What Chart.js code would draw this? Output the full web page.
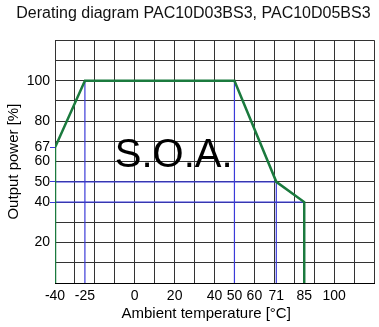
<!DOCTYPE html>
<html>
<head>
<meta charset="utf-8">
<script src="https://cdn.jsdelivr.net/npm/chart.js@4/dist/chart.umd.min.js"></script>
<style>
    html, body { margin: 0; padding: 0; background: #fff; }
    #wrap { width: 379px; height: 327px; }
</style>
</head>
<body>
<div id="wrap"><canvas id="deratingChart"></canvas></div>
<script>
// DATA
const curveTemp  = [-40, -40, -25, 50, 71, 85, 85];
const curvePower = [0, 67, 100, 100, 50, 40, 0];

// blue guide lines, each one a pair of points
const guideTemp  = [[-25, -25], [50, 50], [71, 71], [-40, 71], [-40, 85]];
const guidePower = [[100, 0], [100, 0], [50, 0], [50, 50], [40, 40]];

const xGridTicks  = [-40, -30, -20, -10, 0, 10, 20, 30, 40, 50, 60, 70, 80, 90, 100, 110, 120];
const xLabelTicks = [-40, -25, 0, 20, 40, 50, 60, 71, 85, 100];
const yGridTicks  = [0, 10, 20, 30, 40, 50, 60, 70, 80, 90, 100, 110, 120];
const yLabelTicks = [20, 40, 50, 60, 67, 80, 100];
const yBlueTicks  = [67, 50, 40];

const FONT = 'Liberation Sans, Arial, sans-serif';
Chart.defaults.font.family = FONT;
Chart.defaults.color = '#000';

function mergeTicks(a, b) {
    return [...new Set(a.concat(b))].sort((p, q) => p - q);
}

// S.O.A. label inside the plot
const soaLabel = {
    id: 'soaLabel',
    afterDatasetsDraw(chart) {
        const { ctx, scales } = chart;
        ctx.save();
        ctx.font = '40px ' + FONT;
        ctx.fillStyle = '#000';
        ctx.textAlign = 'left';
        ctx.textBaseline = 'alphabetic';
        ctx.fillText('S.O.A.', scales.x.getPixelForValue(-10), scales.y.getPixelForValue(57.5));
        ctx.restore();
    }
};

const datasets = [{
    data: curveTemp.map((t, i) => ({ x: t, y: curvePower[i] })),
    borderColor: '#1b7a3e',
    borderWidth: 2.5,
    pointRadius: 0,
    order: 0
}];
guideTemp.forEach((pair, i) => {
    datasets.push({
        data: pair.map((t, j) => ({ x: t, y: guidePower[i][j] })),
        borderColor: '#3a3ad8',
        borderWidth: 1.2,
        pointRadius: 0,
        order: 1
    });
});

new Chart(document.getElementById('deratingChart'), {
    type: 'line',
    data: { datasets },
    plugins: [soaLabel],
    options: {
        responsive: true,
        maintainAspectRatio: false,
        animation: false,
        layout: { padding: { right: 1 } },
        plugins: {
            legend: { display: false },
            tooltip: { enabled: false },
            title: {
                display: true,
                text: '\u00a0\u00a0Derating diagram PAC10D03BS3, PAC10D05BS3',
                color: '#111',
                font: { size: 16, weight: 'normal' },
                padding: { top: 4, bottom: 17 }
            }
        },
        scales: {
            x: {
                type: 'linear',
                min: -40,
                max: 120,
                afterBuildTicks: s => { s.ticks = mergeTicks(xGridTicks, xLabelTicks).map(v => ({ value: v })); },
                afterFit: s => { s.height = 44; },
                border: { color: '#000', width: 1 },
                grid: {
                    drawTicks: false,
                    color: c => (c.tick && c.tick.value % 10 === 0) ? '#333' : 'rgba(0,0,0,0)'
                },
                ticks: {
                    autoSkip: false,
                    maxRotation: 0,
                    padding: 5,
                    font: { size: 14 },
                    callback: v => xLabelTicks.includes(v) ? String(v) : ''
                },
                title: {
                    display: true,
                    text: 'Ambient temperature [°C]\u00a0\u00a0\u00a0\u00a0',
                    font: { size: 15 },
                    padding: { top: 0, bottom: 4 }
                }
            },
            y: {
                type: 'linear',
                min: 0,
                max: 120,
                afterBuildTicks: s => { s.ticks = mergeTicks(yGridTicks, yLabelTicks).map(v => ({ value: v })); },
                afterFit: s => { s.width = 55; },
                border: { display: false },
                grid: {
                    tickLength: 5,
                    color: c => (c.tick && c.tick.value % 10 === 0) ? '#333' : 'rgba(0,0,0,0)',
                    tickColor: c => (c.tick && yBlueTicks.includes(c.tick.value)) ? '#3a3ad8' : 'rgba(0,0,0,0)'
                },
                ticks: {
                    autoSkip: false,
                    padding: 0,
                    font: { size: 14 },
                    callback: v => yLabelTicks.includes(v) ? String(v) : ''
                },
                title: {
                    display: true,
                    text: 'Output power [%]',
                    font: { size: 15 },
                    padding: { top: 5, bottom: 0 }
                }
            }
        }
    }
});
</script>
</body>
</html>
